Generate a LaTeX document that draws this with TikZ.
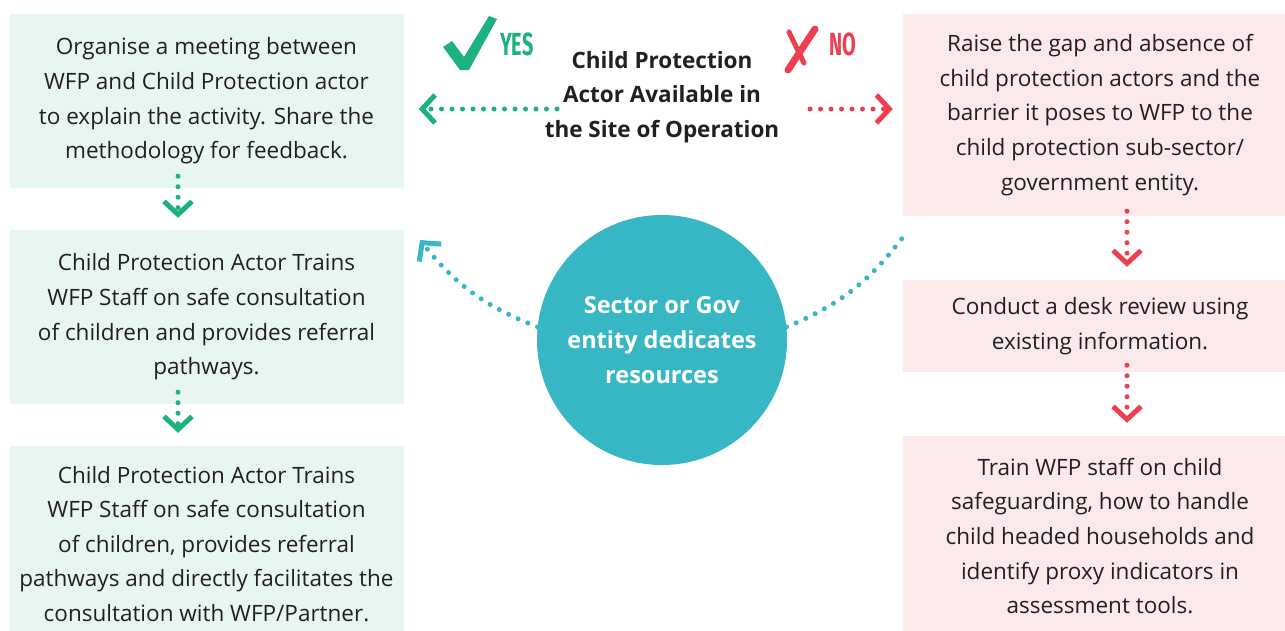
\documentclass[tikz,border=0pt]{standalone}
\usepackage{fontspec}
\setmainfont{Open Sans}
\newfontfamily\tagfont{Fira Sans}
\usetikzlibrary{arrows.meta}

\definecolor{yesgreen}{RGB}{27,178,125}
\definecolor{nored}{RGB}{236,64,81}
\definecolor{yesfill}{RGB}{232,246,240}
\definecolor{nofill}{RGB}{252,233,234}
\definecolor{govteal}{RGB}{55,182,196}
\definecolor{ink}{RGB}{35,31,32}

\tikzset{
  step box/.style={inner sep=0pt, minimum width=394pt, align=center, text=ink,
    font=\fontsize{22.5}{34.6}\selectfont},
  yes box/.style={step box, fill=yesfill},
  no box/.style={step box, fill=nofill},
  dotline/.style={line width=5pt, line cap=round, dash pattern=on 0pt off 10.5pt},
  barb/.style={-{Straight Barb[length=13pt,width=28pt,line width=5pt]}},
  tag/.style={inner sep=0pt, font=\tagfont\bfseries\fontsize{32}{32}\selectfont}
}

\begin{document}
\begin{tikzpicture}[x=1pt,y=-1pt]
\useasboundingbox (0,0) rectangle (1285,630);

% yes branch
\node[yes box, minimum height=174pt] (yes1) at (206.5,101) {Organise a meeting between\\WFP and Child Protection actor\\to explain the activity. Share the\\methodology for feedback.};
\node[yes box, minimum height=174pt] (yes2) at (206.5,317) {Child Protection Actor Trains\\WFP Staff on safe consultation\\of children and provides referral\\pathways.};
\node[yes box, minimum height=196pt] (yes3) at (206.5,544) {Child Protection Actor Trains\\WFP Staff on safe consultation\\of children,  provides referral\\pathways and directly facilitates the\\consultation with WFP/Partner.};

% no branch
\node[no box, minimum height=202pt] (no1) at (1100,115) {Raise the gap and absence of\\child protection actors and the\\barrier it poses to WFP to the\\child protection sub-sector/\\government entity.};
\node[no box, minimum height=92pt] (no2) at (1100,326) {Conduct a desk review using\\existing information.};
\node[no box, minimum height=200pt] (no3) at (1100,536) {Train WFP staff on child\\safeguarding, how to handle\\child headed households and\\identify proxy indicators in\\assessment tools.};

% question and the shared resource circle
\node[align=center, text=ink, font=\bfseries\fontsize{22.5}{34.6}\selectfont] (question) at (662,97) {Child Protection\\Actor Available in\\the Site of Operation};
\node[circle, fill=govteal, minimum size=250pt, inner sep=0pt, align=center, text=white,
  font=\bfseries\fontsize{23.5}{34.6}\selectfont] (gov) at (662,340) {Sector or Gov\\entity dedicates\\resources};

% yes / no tags
\fill[yesgreen] (443,47) -- (452,41) -- (464,57) -- (489,16) -- (497,19) -- (469,70) -- (460,70) -- cycle;
\node[tag, text=yesgreen, anchor=west] (yes) at (500,44) {\scalebox{0.62}[1]{YES}};
\draw[nored, line width=7pt, line cap=round] (815,29) -- (788,70);
\draw[nored, line width=5pt, line cap=round] (789,32) -- (804,63);
\node[tag, text=nored, anchor=west] (no) at (829,44) {\scalebox{0.62}[1]{NO}};

% connectors
\draw[yesgreen, dotline, barb, shorten >=15pt] ([shift={(-105,12)}]question.center) -- (yes1.east |- 0,109);
\draw[nored, dotline, barb, shorten >=10pt] ([shift={(148,12)}]question.center) -- (no1.west |- 0,109);
\draw[yesgreen, dotline, barb, shorten >=12pt] ([shift={(-28.5,-12)}]yes1.south) -- ([xshift=-28.5pt]yes2.north);
\draw[yesgreen, dotline, barb, shorten >=13pt] ([shift={(-28.5,-12)}]yes2.south) -- ([xshift=-28.5pt]yes3.north);
\draw[nored, dotline, barb, shorten >=13pt] ([shift={(27,-5)}]no1.south) -- ([xshift=27pt]no2.north);
\draw[nored, dotline, barb, shorten >=13pt] ([shift={(27,-7)}]no2.south) -- ([xshift=27pt]no3.north);

\coordinate (backtip) at (420,240);
\coordinate (nofree) at (903,237);
\draw[govteal, dotline, barb] (gov.174) to[bend left=15] (backtip);
\draw[govteal, dotline] (gov.6) to[bend right=15] (nofree);
\end{tikzpicture}
\end{document}
